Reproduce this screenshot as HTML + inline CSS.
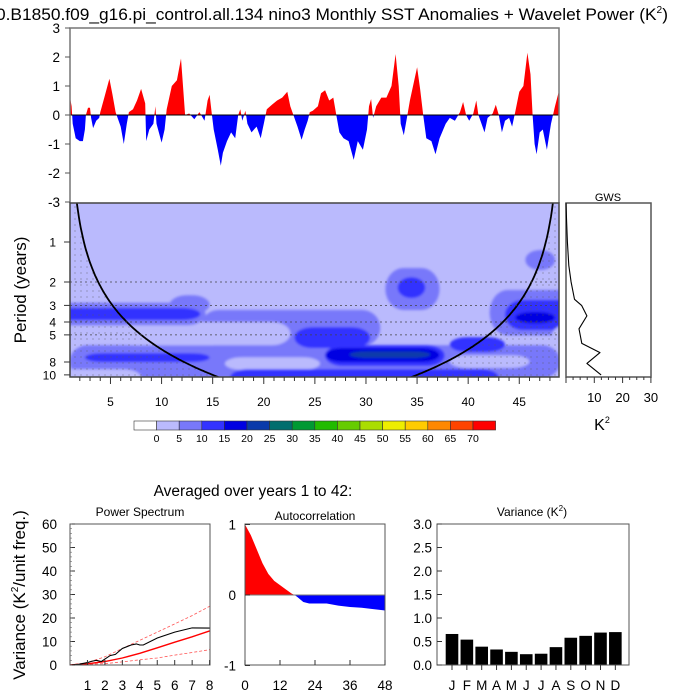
<!DOCTYPE html>
<html><head><meta charset="utf-8"><style>
body{margin:0;background:#fff;}
svg{display:block;font-family:"Liberation Sans",sans-serif;}
</style></head><body>
<svg id="s" width="700" height="700" viewBox="0 0 700 700" xmlns="http://www.w3.org/2000/svg">
<defs>
<clipPath id="cpTop"><rect x="70" y="28" width="489" height="87"/></clipPath>
<clipPath id="cpBot"><rect x="70" y="115" width="489" height="88"/></clipPath>
<clipPath id="cpWav"><rect x="70" y="203" width="489" height="174"/></clipPath>
<pattern id="dots" width="6" height="6" patternUnits="userSpaceOnUse"><circle cx="3" cy="3" r="0.5" fill="#555"/></pattern>
<clipPath id="cpAcPos"><rect x="245" y="524" width="140" height="71"/></clipPath>
<clipPath id="cpAcNeg"><rect x="245" y="595" width="140" height="70"/></clipPath>
<clipPath id="cpPS"><rect x="70" y="524" width="140" height="141"/></clipPath>
<filter id="soft" x="-5%" y="-5%" width="110%" height="110%"><feGaussianBlur stdDeviation="1.2"/></filter>
</defs>
<text x="-4" y="20" font-size="17" textLength="672" lengthAdjust="spacingAndGlyphs">0.B1850.f09_g16.pi_control.all.134 nino3 Monthly SST Anomalies + Wavelet Power (K<tspan font-size="10" dy="-7">2</tspan><tspan dy="7">)</tspan></text>
<g id="gTop"></g>
<g id="gWav"></g>
<g id="gGws"></g>
<g id="gCb"></g>
<text x="253" y="496" font-size="15.5" text-anchor="middle">Averaged over years 1 to 42:</text>
<g id="gPS"></g>
<g id="gAC"></g>
<g id="gVar"></g>
</svg>
<script>
// ---- anomaly data (years, K)
var anomTimes=[1.0,1.2,1.3,1.6,2.0,2.3,2.5,2.6,2.8,3.0,3.1,3.3,3.6,3.9,4.0,4.4,4.9,5.2,5.5,5.7,6.0,6.3,6.6,6.8,7.2,7.6,8.0,8.4,8.5,8.8,9.2,9.4,9.5,10.0,10.3,10.5,11.0,11.5,11.9,12.1,12.3,12.7,13.2,13.7,14.2,14.5,14.7,14.9,15.1,15.5,15.8,16.0,16.4,16.8,17.2,17.5,17.7,17.9,18.2,18.4,18.8,19.3,19.7,20.0,20.3,20.8,21.3,21.8,22.3,22.6,22.9,23.3,23.7,24.0,24.3,24.5,24.8,25.3,25.6,26.0,26.4,26.8,27.1,27.4,27.8,28.3,28.8,29.2,29.7,30.1,30.3,30.5,30.7,31.0,31.5,32.0,32.5,32.9,33.2,33.4,33.7,34.0,34.3,35.0,35.3,35.6,35.9,36.4,36.8,37.2,37.8,38.2,38.7,39.2,39.5,39.8,40.1,40.5,40.8,41.0,41.3,41.6,41.9,42.4,42.7,43.0,43.3,43.6,44.0,44.3,44.6,45.0,45.4,45.8,46.1,46.3,46.5,46.7,47.0,47.3,47.7,48.1,48.5,48.9];
var anomValues=[0.7,0.3,-0.3,-0.8,-0.9,-0.9,-0.5,0.0,0.25,0.25,-0.1,-0.45,-0.2,-0.1,0.1,0.6,1.25,0.7,0.1,-0.1,-0.4,-1.0,-0.3,0.1,0.2,0.5,0.9,0.4,-0.9,-0.5,-0.3,0.3,-0.3,-0.95,-0.5,0.2,1.0,1.2,1.95,1.0,0.0,0.05,-0.15,0.1,-0.2,0.5,0.7,0.1,-0.5,-1.2,-1.75,-1.3,-0.9,-0.6,-0.8,0.0,0.2,-0.2,0.15,-0.3,-0.6,-0.4,-0.8,-0.3,0.2,0.35,0.5,0.6,0.8,0.3,0.0,-0.4,-0.85,-0.5,-0.2,0.1,0.15,0.3,0.75,0.85,0.5,0.6,0.0,-0.6,-0.8,-0.9,-1.55,-0.9,-1.2,-0.5,0.3,0.55,-0.1,0.3,0.6,0.6,1.0,2.1,1.0,-0.3,-0.7,-0.1,0.5,1.65,0.9,0.0,-0.8,-0.9,-1.35,-0.8,-0.3,-0.1,-0.2,0.1,0.45,0.0,-0.2,0.05,0.5,0.0,-0.3,-0.6,-0.1,0.05,0.35,0.0,-0.6,-0.2,-0.1,-0.4,0.1,0.8,1.0,2.15,1.4,0.0,-1.0,-1.35,-0.6,-0.5,-1.2,-0.3,0.3,0.85];
var anomTicks=[3,2,1,0,-1,-2,-3];
// ---- wavelet contour regions: [tStart,tEnd,octaveTop,octaveBottom,level]  (octave = log2(period))
var contourRegions=[
 [1,49,2.58,3.4,2],[13.8,31.4,1.7,2.6,2],[5.9,22.6,2.0,2.58,1],
 [-1,14.3,1.52,2.08,2],[10.8,14.7,1.33,1.8,2],[-1,13.8,1.65,1.95,3],
 [16.2,25.5,2.88,3.2,1],[38.2,46,2.83,3.15,1],[-1,8,3.18,3.6,1],
 [23,30.4,2.13,2.65,3],[26,37.7,2.58,3.1,3],[2.5,14.7,2.78,3.0,3],[38.2,43.6,2.38,2.75,3],[16.7,43,3.18,3.6,3],
 [26,37.2,2.65,3.0,4],[28.4,36.3,2.73,2.9,5],
 [42.1,51,1.2,2.33,2],[43.6,51,1.45,2.2,3],[44.6,48.5,1.75,2.03,4],[48.2,51,2.08,2.58,1],
 [31.9,37.2,0.65,1.7,2],[33.1,35.8,0.88,1.4,3],[45.6,48.5,0.2,0.7,2]];
var levelColors=["#ffffff","#babafd","#7878fa","#3333ff","#0000e2","#0a3aaa","#006e6e","#009933","#22bb00","#66cc00","#aadd00","#eeee00","#ffcc00","#ff8800","#ff4400","#ff0000"];
var cbLabels=[0,5,10,15,20,25,30,35,40,45,50,55,60,65,70];
var periodTicks=[1,2,3,4,5,8,10];
var dashedPeriods=[2,3,4,5];
var yearTicks=[5,10,15,20,25,30,35,40,45];
// ---- GWS
var gwsPeriods=[0.51,0.7,1,1.5,2,2.7,3.0,3.6,4.5,5.8,6.8,8.2,10];
var gwsValues=[0,0.2,0.5,1.0,1.8,3.0,5.5,7.4,4.6,5.6,12,7.4,12.4];
var gwsTicks=[10,20,30];
// ---- power spectrum
var psFreq=[0,0.5,1,1.2,1.5,1.8,2,2.3,2.6,3,3.5,3.8,4,4.2,5,6,7,8];
var psPower=[0,0.3,1,1.5,2,1.5,2.5,4,4.5,7,8.5,9,8.5,8.5,11.5,14,15.8,15.7];
var psRedFreq=[0,1,2,3,4,5,6,7,8];
var psRed=[0,0.5,1.5,3,5,7.3,9.7,12,14.5];
var psUpper=[0,1,3.5,7,10.5,14,17.5,21,25];
var psLower=[0,0.3,0.6,1.3,2.2,3,4.2,5.3,6.5];
var psYTicks=[0,10,20,30,40,50,60];
var psXTicks=[1,2,3,4,5,6,7,8];
// ---- autocorrelation
var acLags=[0,2,4,6,8,10,12,14,16,17,18,20,22,24,28,32,36,40,44,48];
var acValues=[1.0,0.85,0.65,0.45,0.3,0.2,0.14,0.08,0.02,0,-0.03,-0.1,-0.12,-0.12,-0.12,-0.15,-0.17,-0.18,-0.2,-0.22];
var acXTicks=[0,12,24,36,48];
var acYTicks=[1,0,-1];
// ---- monthly variance
var months=["J","F","M","A","M","J","J","A","S","O","N","D"];
var monthVar=[0.66,0.54,0.39,0.33,0.28,0.23,0.24,0.38,0.58,0.62,0.69,0.70];
var varTicks=["0.0","0.5","1.0","1.5","2.0","2.5","3.0"];

var NS="http://www.w3.org/2000/svg";
function mk(parent,tag,attrs,text){var e=document.createElementNS(NS,tag);for(var k in attrs)e.setAttribute(k,attrs[k]);if(text!==undefined)e.textContent=text;parent.appendChild(e);return e;}
function xT(t){return 70+(t-1.04)*10.22;}
function yA(v){return 115-v*29;}
function yO(o){return 242+40*o;}
function yP(p){return yO(Math.log2(p));}

// ===== top anomaly
var gT=document.getElementById('gTop');
var pts=anomTimes.map(function(t,i){return xT(t).toFixed(1)+','+yA(anomValues[i]).toFixed(1);});
var poly='M'+xT(anomTimes[0])+','+yA(0)+' L'+pts.join(' L')+' L'+xT(anomTimes[anomTimes.length-1])+','+yA(0)+'Z';
var ap=mk(gT,'path',{d:poly,fill:'#ff0000','clip-path':'url(#cpTop)'});


var an=mk(gT,'path',{d:poly,fill:'#0000ff','clip-path':'url(#cpBot)'});


mk(gT,'line',{x1:70,x2:559,y1:yA(0),y2:yA(0),stroke:'#000','stroke-width':1});
mk(gT,'polyline',{points:'70,203 70,28 559,28 559,203',fill:'none',stroke:'#777','stroke-width':1.5});
anomTicks.forEach(function(v){
  mk(gT,'line',{x1:65,x2:70,y1:yA(v),y2:yA(v),stroke:'#555'});
  var tl=mk(gT,'text',{x:60,y:yA(v)+5,'font-size':13.5,'text-anchor':'end'},String(v));
  
  
});

// ===== wavelet
var gW=document.getElementById('gWav');
var wc=mk(gW,'g',{'clip-path':'url(#cpWav)'});
mk(wc,'rect',{x:60,y:195,width:510,height:200,fill:levelColors[1]});
var wblur=mk(wc,'g',{filter:'url(#soft)'});
contourRegions.forEach(function(r){
  var x0=xT(r[0]),x1=xT(r[1]),y0=yO(r[2]),y1=yO(r[3]);
  var rr=mk(wblur,'rect',{x:x0,y:y0,width:x1-x0,height:y1-y0,rx:Math.min(18,(x1-x0)/2),ry:(y1-y0)/2,fill:levelColors[r[4]]});
  
  
});
// cone of influence
var coiL=[];
for(var t=1.0;t<=49.001;t+=0.1){var d=Math.min(t-1.0,49-t);var p=Math.max(d*10/14,0.001);coiL.push([xT(t),yP(p)]);}
var coiPath='M'+coiL.map(function(q){return q[0].toFixed(1)+','+Math.min(q[1],400).toFixed(1);}).join(' L');
var outside=coiPath+' L'+xT(49)+',420 L'+xT(1)+',420 Z';
mk(wc,'path',{d:outside,fill:'url(#dots)'});
mk(wc,'path',{d:coiPath,fill:'none',stroke:'#000','stroke-width':1.8});
dashedPeriods.forEach(function(p){mk(wc,'line',{x1:70,x2:559,y1:yP(p),y2:yP(p),stroke:'#444','stroke-width':0.8,'stroke-dasharray':'2,3'});});
mk(gW,'rect',{x:70,y:203,width:489,height:174,fill:'none',stroke:'#444','stroke-width':1.5});
periodTicks.forEach(function(p){
  mk(gW,'line',{x1:64,x2:70,y1:yP(p),y2:yP(p),stroke:'#333'});
  var tl=mk(gW,'text',{x:56,y:yP(p)+4.5,'font-size':12,'text-anchor':'end'},String(p));
  
  
});
for(var yr=2;yr<=48;yr++){var big=yr%5===0;mk(gW,'line',{x1:xT(yr),x2:xT(yr),y1:377,y2:big?384:381,stroke:'#333'});}
yearTicks.forEach(function(y){
  var tl=mk(gW,'text',{x:xT(y),y:406,'font-size':12,'text-anchor':'middle'},String(y));
  
  
});
var yl=mk(gW,'text',{x:0,y:0,'font-size':17,'text-anchor':'middle',transform:'translate(26,290) rotate(-90)'},'Period (years)');



// ===== GWS
var gG=document.getElementById('gGws');
function xG(k){return 566+k*2.83;}
mk(gG,'rect',{x:566,y:203,width:85,height:174,fill:'none',stroke:'#555','stroke-width':1.5});
var gl=mk(gG,'polyline',{points:gwsPeriods.map(function(p,i){return xG(gwsValues[i]).toFixed(1)+','+yP(p).toFixed(1);}).join(' '),fill:'none',stroke:'#000','stroke-width':1.1,'stroke-linejoin':'round'});


for(var k=0;k<=30;k+=2.5){mk(gG,'line',{x1:xG(k),x2:xG(k),y1:377,y2:k%10===0?383:380,stroke:'#333'});}
gwsTicks.forEach(function(k){var tl=mk(gG,'text',{x:xG(k),y:402,'font-size':13,'text-anchor':'middle'},String(k));
  
  });
mk(gG,'text',{x:608,y:201,'font-size':11,'text-anchor':'middle'},'GWS');
mk(gG,'text',{x:602,y:430,'font-size':16,'text-anchor':'middle'},'K').appendChild((function(){var s=document.createElementNS(NS,'tspan');s.setAttribute('font-size','9');s.setAttribute('dy','-7');s.textContent='2';return s;})());

// ===== colorbar
var gC=document.getElementById('gCb');
var cw=22.6;
levelColors.forEach(function(c,i){var r=mk(gC,'rect',{x:134+i*cw,y:421,width:cw,height:9,fill:c,stroke:'#333','stroke-width':0.6});
  
  });
cbLabels.forEach(function(v,i){mk(gC,'text',{x:134+(i+1)*cw,y:442,'font-size':10.5,'text-anchor':'middle'},String(v));});

// ===== power spectrum
var gS=document.getElementById('gPS');
function xS(f){return 70+f*17.45;}
function yS(v){return 665-v*2.35;}
mk(gS,'text',{x:140,y:516,'font-size':12,'text-anchor':'middle'},'Power Spectrum');
var sc=mk(gS,'g',{'clip-path':'url(#cpPS)'});
function lineSeries(g,xs,ys,fx,fy,attrs,name){var a={points:xs.map(function(x,i){return fx(x).toFixed(1)+','+fy(ys[i]).toFixed(1);}).join(' '),fill:'none'};for(var k in attrs)a[k]=attrs[k];var e=mk(g,'polyline',a);return e;}
lineSeries(sc,psRedFreq,psUpper,xS,yS,{stroke:'#ff5555','stroke-width':0.8,'stroke-dasharray':'3,2'},'upper-confidence-line');
lineSeries(sc,psRedFreq,psLower,xS,yS,{stroke:'#ff5555','stroke-width':0.8,'stroke-dasharray':'3,2'},'lower-confidence-line');
lineSeries(sc,psRedFreq,psRed,xS,yS,{stroke:'#ff0000','stroke-width':1.4},'red-noise-line');
lineSeries(sc,psFreq,psPower,xS,yS,{stroke:'#000','stroke-width':1.1},'power-spectrum-line');
mk(gS,'rect',{x:70,y:524,width:140,height:141,fill:'none',stroke:'#555','stroke-width':1});
psYTicks.forEach(function(v){mk(gS,'line',{x1:70,x2:75,y1:yS(v),y2:yS(v),stroke:'#333'});mk(gS,'text',{x:57,y:yS(v)+5,'font-size':13.5,'text-anchor':'end'},String(v));});
for(var v=0;v<=60;v+=2){mk(gS,'line',{x1:70,x2:72,y1:yS(v),y2:yS(v),stroke:'#666','stroke-width':0.6});}
psXTicks.forEach(function(f){mk(gS,'line',{x1:xS(f),x2:xS(f),y1:665,y2:660,stroke:'#333'});mk(gS,'text',{x:xS(f),y:690,'font-size':13.5,'text-anchor':'middle'},String(f));});
var vy=mk(gS,'text',{x:0,y:0,'font-size':17,'text-anchor':'middle',transform:'translate(25,595) rotate(-90)'},'Variance (K');
var s2=document.createElementNS(NS,'tspan');s2.setAttribute('font-size','10');s2.setAttribute('dy','-7');s2.textContent='2';vy.appendChild(s2);
var s3=document.createElementNS(NS,'tspan');s3.setAttribute('dy','7');s3.textContent='/unit freq.)';vy.appendChild(s3);



// ===== autocorrelation
var gA=document.getElementById('gAC');
function xAc(l){return 245+l*140/48;}
function yAc(v){return 595-v*70.5;}
mk(gA,'text',{x:315,y:520,'font-size':12,'text-anchor':'middle'},'Autocorrelation');
var acd='M'+xAc(acLags[0])+','+yAc(0)+' L'+acLags.map(function(l,i){return xAc(l).toFixed(1)+','+yAc(acValues[i]).toFixed(1);}).join(' L')+' L'+xAc(acLags[acLags.length-1])+','+yAc(0)+'Z';
var ar=mk(gA,'path',{d:acd,fill:'#ff0000','clip-path':'url(#cpAcPos)'});


var ab=mk(gA,'path',{d:acd,fill:'#0000ff','clip-path':'url(#cpAcNeg)'});


mk(gA,'line',{x1:245,x2:385,y1:yAc(0),y2:yAc(0),stroke:'#777'});
mk(gA,'rect',{x:245,y:524,width:140,height:141,fill:'none',stroke:'#555','stroke-width':1});
acYTicks.forEach(function(v){mk(gA,'line',{x1:245,x2:250,y1:yAc(v),y2:yAc(v),stroke:'#333'});mk(gA,'text',{x:236,y:yAc(v)+5,'font-size':13.5,'text-anchor':'end'},String(v));});
acXTicks.forEach(function(l){mk(gA,'line',{x1:xAc(l),x2:xAc(l),y1:665,y2:660,stroke:'#333'});mk(gA,'text',{x:xAc(l),y:690,'font-size':13.5,'text-anchor':'middle'},String(l));});

// ===== variance
var gV=document.getElementById('gVar');
function xV(i){return 452+i*14.85;}
function yV(v){return 665-v*47;}
var vt=mk(gV,'text',{x:532,y:516,'font-size':12,'text-anchor':'middle'},'Variance (K');
var s4=document.createElementNS(NS,'tspan');s4.setAttribute('font-size','8');s4.setAttribute('dy','-5');s4.textContent='2';vt.appendChild(s4);
var s5=document.createElementNS(NS,'tspan');s5.setAttribute('dy','5');s5.textContent=')';vt.appendChild(s5);
monthVar.forEach(function(v,i){var b=mk(gV,'rect',{x:xV(i)-6.3,y:yV(v),width:12.6,height:665-yV(v),fill:'#000'});
  
  });
mk(gV,'rect',{x:437,y:524,width:192,height:141,fill:'none',stroke:'#555','stroke-width':1});
varTicks.forEach(function(s){var v=parseFloat(s);mk(gV,'line',{x1:437,x2:442,y1:yV(v),y2:yV(v),stroke:'#333'});mk(gV,'text',{x:432,y:yV(v)+5,'font-size':13.5,'text-anchor':'end'},s);});
months.forEach(function(m,i){mk(gV,'line',{x1:xV(i),x2:xV(i),y1:665,y2:670,stroke:'#333'});mk(gV,'text',{x:xV(i),y:690,'font-size':13.5,'text-anchor':'middle'},m);});
</script>
</body></html>
